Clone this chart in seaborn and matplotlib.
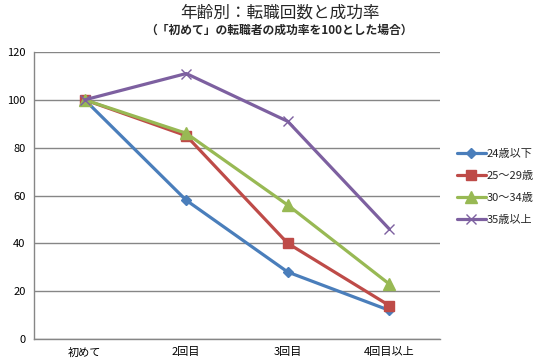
import matplotlib
matplotlib.use("Agg")
import matplotlib.pyplot as plt
import seaborn as sns
import pandas as pd

# データ
categories = ["初めて", "2回目", "3回目", "4回目以上"]
series_names = ["24歳以下", "25～29歳", "30～34歳", "35歳以上"]
vals_24 = [100, 58, 28, 12]
vals_25_29 = [100, 85, 40, 14]
vals_30_34 = [100, 86, 56, 23]
vals_35 = [100, 111, 91, 46]

colors = ["#4A7EBB", "#BE4B48", "#98B954", "#7D60A0"]
markers = ["D", "s", "^", "x"]
msizes = [5, 7.5, 8, 7]

rows = []
for name, vals in zip(series_names, [vals_24, vals_25_29, vals_30_34, vals_35]):
    for c, v in zip(categories, vals):
        rows.append({"回数": c, "成功率": v, "年齢": name})
df = pd.DataFrame(rows)

sns.set_theme(style="white")
plt.rcParams['font.family'] = ['Noto Sans CJK JP', 'DejaVu Sans']

fig = plt.figure(figsize=(5.42, 3.62), dpi=100)
ax = fig.add_axes([34 / 542, 1 - 339 / 362, 406 / 542, 287 / 362])

for i, name in enumerate(series_names):
    sub = df[df["年齢"] == name]
    sns.lineplot(data=sub, x="回数", y="成功率", color=colors[i], marker=markers[i],
                 markersize=msizes[i], markeredgecolor=colors[i],
                 markeredgewidth=1.0, linewidth=2.3, label=name, ax=ax, sort=False)

ax.set_xlim(-0.5, 3.5)
ax.set_ylim(0, 120)
ax.set_yticks(range(0, 121, 20))
ax.yaxis.grid(True, color="#868686", linewidth=1)
ax.xaxis.grid(False)
ax.set_axisbelow(True)
for s in ["top", "right"]:
    ax.spines[s].set_visible(False)
for s in ["left", "bottom"]:
    ax.spines[s].set_color("#868686")
    ax.spines[s].set_linewidth(1)
ax.set_xlabel("")
ax.set_ylabel("")
ax.tick_params(axis="both", labelsize=8, length=0, pad=6, colors="black")

ax.legend(loc="center left", bbox_to_anchor=(1.03, 0.53), frameon=False,
          fontsize=8, handlelength=2.6, handletextpad=0.1, labelspacing=1.1,
          borderaxespad=0)

fig.text(0.517, 1 - 13 / 362, "年齢別：転職回数と成功率", ha="center", va="center",
         fontsize=12)
fig.text(0.514, 1 - 30 / 362, "（「初めて」の転職者の成功率を100とした場合）", ha="center",
         va="center", fontsize=8.5, fontweight="bold")

fig.savefig("out.png", dpi=100)
